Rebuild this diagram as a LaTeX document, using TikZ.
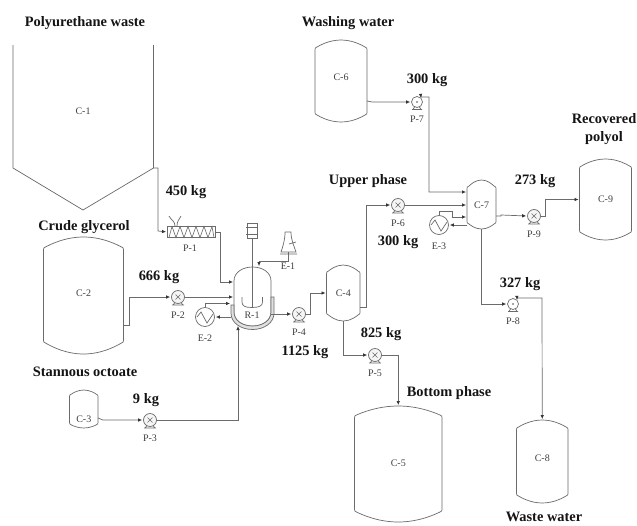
\documentclass[tikz,border=0pt]{standalone}
\usepackage{fontspec}
\setmainfont{Liberation Serif}
\usetikzlibrary{arrows.meta,calc}
\definecolor{ln}{gray}{0.42}
\definecolor{tx}{gray}{0.25}
\tikzset{
  eqp/.style={draw=ln,line width=0.7pt},
  pipe/.style={draw=ln,line width=0.7pt},
  arr/.style={pipe,-{Latex[length=4pt,width=3.6pt,black!80]},shorten >=1pt},
  arrb/.style={pipe,{Latex[length=4pt,width=3.6pt,black!80]}-{Latex[length=4pt,width=3.6pt,black!80]},shorten >=1pt},
  tag/.style={font=\fontsize{10}{12}\selectfont,text=tx,inner sep=0pt},
  head/.style={font=\bfseries\fontsize{14.4}{18}\selectfont,text=black!92,inner sep=0pt,align=center},
  box/.style={rectangle,inner sep=0pt,outer sep=0pt},
}
% vessel: name, xl, xr, top, shoulder, lower shoulder, bottom, label, label y
\newcommand{\vessel}[9]{%
  \node[box,minimum width={(#3-#2)*1pt},minimum height={(#7-#4)*1pt}] (#1) at ({(#2+#3)/2},{(#4+#7)/2}) {};
  \draw[eqp] (#2,{#5+3}) .. controls (#2,{#5+1}) .. ({#2+2},#5)
     parabola bend ({(#2+#3)/2},#4) ({#3-2},#5)
     .. controls (#3,{#5+1}) .. (#3,{#5+3})
     -- (#3,{#6-3}) .. controls (#3,{#6-1}) .. ({#3-2},#6)
     parabola bend ({(#2+#3)/2},#7) ({#2+2},#6)
     .. controls (#2,{#6-1}) .. (#2,{#6-3}) -- cycle;
  \node[tag] (#1t) at ({(#2+#3)/2},#9) {#8};
}
% pump with cross: name, x, y, label
\newcommand{\pumpx}[4]{%
  \node[circle,draw=ln,line width=0.7pt,fill=black!4,inner sep=0pt,minimum size=13pt] (#1) at (#2,#3) {};
  \begin{scope}[shift={(#2,#3)}]
    \draw[ln,line width=0.5pt] (-2.5,-2.5) -- (2.5,2.5) (-2.5,2.5) -- (2.5,-2.5);
    \draw[ln,line width=0.7pt] (-5,8) -- (-3,5.5) (5,8) -- (3,5.5) (-6,8) -- (6,8);
  \end{scope}
  \node[tag] (#1t) at (#2,{#3+18}) {#4};
}
% centrifugal pump with top outlet
\newcommand{\pumpc}[4]{%
  \node[circle,draw=ln,line width=0.7pt,inner sep=0pt,minimum size=11pt] (#1) at (#2,#3) {};
  \begin{scope}[shift={(#2,#3)}]
    \fill[ln!70!black] (0,0) circle (0.9);
    \draw[ln,line width=0.7pt] (-4,7.5) -- (-2.5,5) (4,7.5) -- (2.5,5) (-5,7.5) -- (5,7.5);
  \end{scope}
  \node[tag] (#1t) at (#2,{#3+17}) {#4};
}
% heat exchanger
\newcommand{\hx}[4]{%
  \node[circle,draw=ln,line width=0.7pt,inner sep=0pt,minimum width=18pt,minimum height=19pt] (#1) at (#2,#3) {};
  \begin{scope}[shift={(#2,#3)}]
    \draw[ln,line width=0.7pt] (-8,0) -- (-4,-5) -- (2,6) -- (8,-3);
  \end{scope}
  \node[tag] (#1t) at (#2,{#3+21}) {#4};
}
\begin{document}
\begin{tikzpicture}[x=1pt,y=-1pt]
\useasboundingbox (0,0) rectangle (637,525);
\fill[white] (0,0) rectangle (637,525);

% C-1 hopper
\node[box,minimum width=140.5pt,minimum height=165pt] (c1) at (83.25,127.5) {};
\draw[eqp] (13,45) -- (13,168) -- (83,210) -- (153.5,168) -- (153.5,45);
\node[tag] (c1t) at (83,111) {C-1};

\vessel{c2}{43.5}{123.5}{237}{247}{343}{354}{C-2}{293}
\vessel{c3}{69.5}{98}{390}{394}{425}{428}{C-3}{419}
\vessel{c4}{326.5}{360}{265}{271}{315}{321}{C-4}{293}
\vessel{c5}{354.5}{442}{406}{415}{512}{522}{C-5}{463}
\vessel{c6}{315}{367}{40}{47}{115}{122}{C-6}{77}
\vessel{c7}{467}{496}{180}{186}{224}{229}{C-7}{205}
\vessel{c8}{516.5}{568}{420}{427}{496}{503}{C-8}{458}
\vessel{c9}{579.5}{631.5}{159}{166}{233}{240}{C-9}{199}

% R-1 reactor
\node[box,minimum width=37pt,minimum height=59pt] (r1) at (252.5,296.5) {};
\draw[eqp] (234,312) -- (234,281) .. controls (234,272) and (243,267) .. (252.5,267)
  .. controls (262,267) and (271,272) .. (271,281) -- (271,312)
  .. controls (271,321) and (262,326) .. (252.5,326)
  .. controls (243,326) and (234,321) .. (234,312);
\draw[eqp,fill=black!12] (231,305) -- (231,313) .. controls (231,323) and (241,329.5) .. (252.5,329.5)
  .. controls (264,329.5) and (274,323) .. (274,313) -- (274,297) -- (271,297) -- (271,312)
  .. controls (271,321) and (262,326) .. (252.5,326)
  .. controls (243,326) and (234,321) .. (234,312) -- (234,305) -- cycle;
\node[tag] (r1t) at (252,315) {R-1};
% agitator
\node[box,draw=ln,line width=0.7pt,minimum width=10pt,minimum height=15pt] (motor) at (252,230.5) {};
\draw[eqp] (246,227) -- (258,227) (246,234) -- (258,234);
\draw[eqp] (252,238) -- (252,308);
\draw[eqp] (242,297) -- (242,302) .. controls (242,306) and (245,307.5) .. (252,307.5)
  .. controls (259,307.5) and (262.5,306) .. (262.5,302) -- (262.5,297);

% E-1 tower
\node[box,minimum width=14pt,minimum height=20pt] (e1) at (288,242) {};
\draw[eqp] (285,232) -- (291,232) .. controls (291,240) and (294,246) .. (296,252) -- (281,252)
   .. controls (283,246) and (285,240) .. (285,232);
\draw[eqp] (280,254) -- (297,254) (289,244) -- (296,242);
\node[tag] (e1t) at (288,266) {E-1};

% P-1 screw
\node[box,draw=ln,line width=0.7pt,minimum width=48pt,minimum height=11pt] (p1) at (191,232) {};
\draw[ln,line width=0.6pt] (169,237.5) -- (172,226.5) -- (176,237.5) -- (180,226.5) -- (184,237.5) -- (188,226.5) -- (192,237.5) -- (196,226.5) -- (200,237.5) -- (204,226.5) -- (208,237.5) -- (212,226.5) -- (214,237.5);
\draw[eqp] (169,216) .. controls (171,220) and (175,221) .. (175,226);
\draw[eqp] (181,216) .. controls (179,220) and (177,221) .. (177,226);
\node[tag] (p1t) at (190,248) {P-1};

% pumps and exchangers
\pumpx{p2}{178}{297}{P-2}
\pumpx{p3}{150}{420}{P-3}
\pumpx{p4}{299}{314}{P-4}
\pumpx{p5}{375}{355}{P-5}
\pumpx{p6}{398}{205}{P-6}
\pumpx{p9}{534}{216}{P-9}
\pumpc{p7}{417}{102}{P-7}
\pumpc{p8}{513}{304}{P-8}
\hx{e2}{205}{317}{E-2}
\hx{e3}{439}{225}{E-3}

% connectors
\draw[arr] (c1.east |- 0,168) -- (158,168) -- (158,231) -- (p1.west);
\draw[arr] (p1.east) -- (220,232) -- (220,282) -- (r1.west |- 0,282);
\draw[arr] (c2.east |- 0,325) -- (129,325) |- (p2.west);
\draw[arr] (p2.east) -- (r1.west |- p2.east);
\draw[arr] (c3.east |- 0,418) -- (103,420) -- (p3.west);
\draw[arr] (p3.east) -| (238,325);
\draw[arr] (r1.east |- p4.west) -- (p4.west);
\draw[arr] (p4.east) -- (310,314) |- (c4.west |- 0,293);
\draw[arr] (e1.south) -- (288,261) -| (259,267);
\draw[arr] (231,317) -- (e2.east);
\draw[arr] (e2.north) |- (231,303.5);
\draw[arr] (c4.south -| 343,321) |- (p5.west);
\draw[arr] (p5.east) -| (c5.north);
\draw[arr] (c4.east |- 0,307) -- (366,307) |- (p6.west);
\draw[arr] (p6.east) -- (c7.west |- p6.east);
\draw[arr] (c6.east |- 0,101) -- (372,102) -- (p7.west);
\draw[arrb] (p7.north east) -- (421,97) -- (429,97) |- (c7.west |- 0,192);
\draw[arr] (e3.north) -- (439,211) -- (452,211) |- (c7.west |- 0,217);
\draw[arr] (c7.west |- 0,225) -- (e3.east);
\draw[arr] (c7.east |- 0,216) -- (501,216) -- (501,215) -- (p9.west);
\draw[arr] (p9.east) -- (545,216) |- (c9.west);
\draw[arr] (c7.south) |- (p8.west);
\draw[arrb] (p8.north east) -- (517,298) -- (542,298) -- (c8.north);

% texts
\node[head] (h1) at (85,23) {Polyurethane waste};
\node[head] (h2) at (84,227) {Crude glycerol};
\node[head] (h3) at (85,372) {Stannous octoate};
\node[head] (h4) at (348,23) {Washing water};
\node[head] (h5) at (368,181) {Upper phase};
\node[head] (h6) at (449,393) {Bottom phase};
\node[head] (h7) at (604,129) {Recovered\\polyol};
\node[head] (h8) at (544,517) {Waste water};
\node[head] (m1) at (186,192) {450 kg};
\node[head] (m2) at (159,277) {666 kg};
\node[head] (m3) at (146,400) {9 kg};
\node[head] (m4) at (305,352) {1125 kg};
\node[head] (m5) at (381,334) {825 kg};
\node[head] (m6) at (398,242) {300 kg};
\node[head] (m7) at (427,80) {300 kg};
\node[head] (m8) at (535,181) {273 kg};
\node[head] (m9) at (520,284) {327 kg};
\end{tikzpicture}
\end{document}
